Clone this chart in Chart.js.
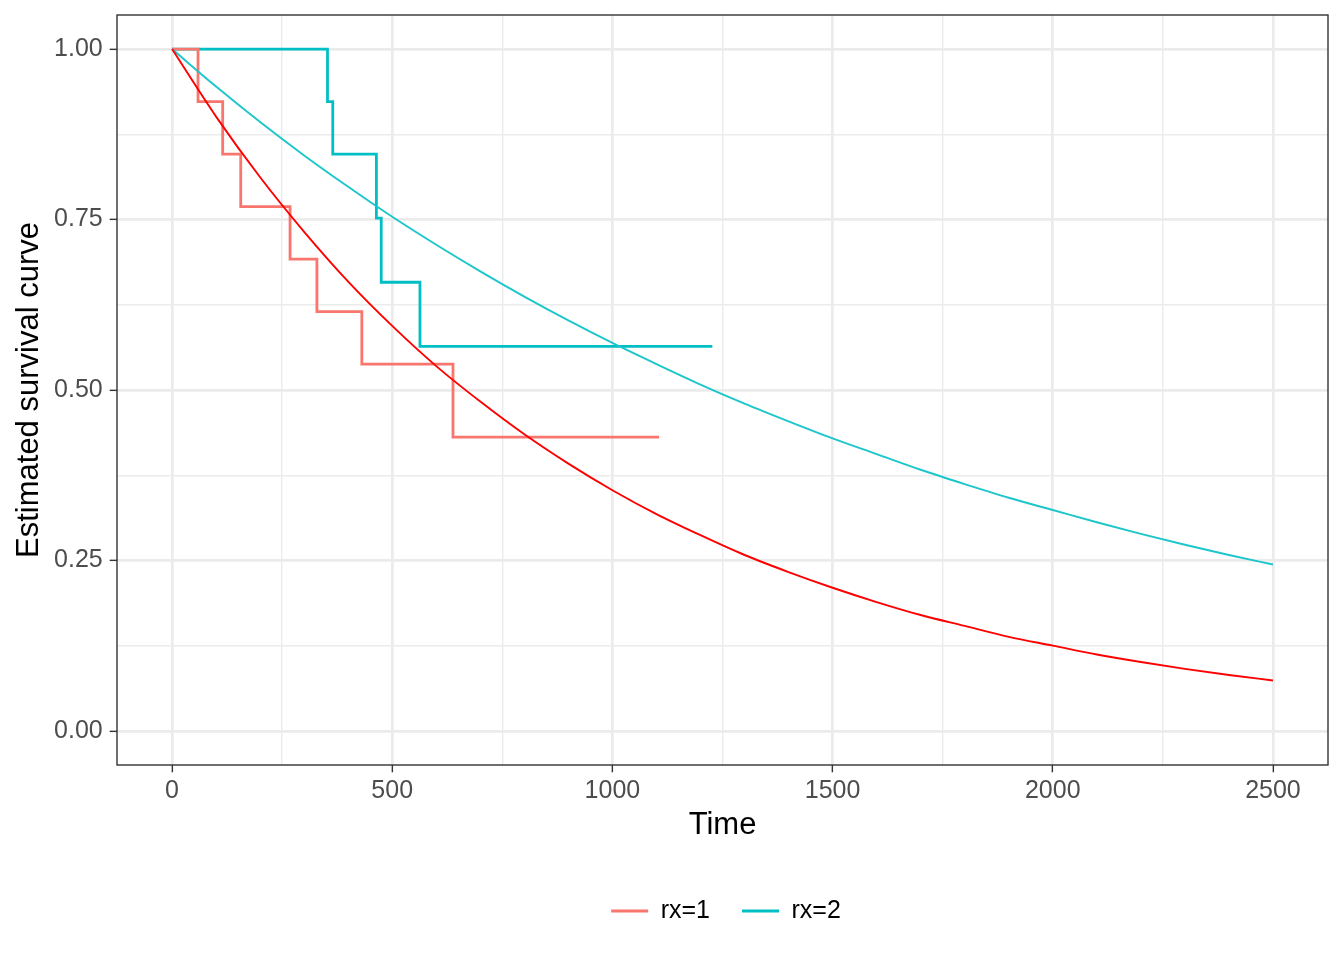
<!DOCTYPE html>
<html>
<head>
<meta charset="utf-8">
<script src="https://cdn.jsdelivr.net/npm/chart.js@4.4.1/dist/chart.umd.min.js"></script>
<style>
html, body { margin: 0; padding: 0; background: #ffffff; }
#wrap { width: 1344px; height: 960px; }
canvas { display: block; }
</style>
</head>
<body>
<div id="wrap"><canvas id="c" width="1344" height="960"></canvas></div>
<script>
// Kaplan-Meier step estimates
const rx1Times = [0, 59, 115, 156, 268, 329, 431, 638, 1106];
const rx1Surv  = [1.000, 0.923, 0.846, 0.769, 0.692, 0.615, 0.538, 0.431, 0.431];
const rx2Times = [0, 353, 365, 464, 475, 563, 1227];
const rx2Surv  = [1.000, 0.923, 0.846, 0.752, 0.658, 0.564, 0.564];

// Fitted parametric curves (every 100 time units)
const fitTimes = [0, 100, 200, 300, 400, 500, 600, 700, 800, 900, 1000, 1100, 1200,
                  1300, 1400, 1500, 1600, 1700, 1800, 1900, 2000, 2100, 2200, 2300, 2400, 2500];
const fit1 = [1.000, 0.901, 0.812, 0.732, 0.659, 0.594, 0.535, 0.483, 0.435, 0.392, 0.353, 0.318, 0.287,
              0.258, 0.233, 0.210, 0.189, 0.170, 0.154, 0.138, 0.125, 0.112, 0.101, 0.091, 0.082, 0.074];
const fit2 = [1.000, 0.945, 0.893, 0.844, 0.798, 0.754, 0.713, 0.674, 0.637, 0.602, 0.569, 0.538, 0.508,
              0.480, 0.454, 0.429, 0.406, 0.383, 0.362, 0.342, 0.324, 0.306, 0.289, 0.273, 0.258, 0.244];

const legendLabels = ['rx=1', 'rx=2'];
const xMajor = [0, 500, 1000, 1500, 2000, 2500];
const xMinor = [250, 750, 1250, 1750, 2250];
const yMajor = [0, 0.25, 0.5, 0.75, 1];
const yMinor = [0.125, 0.375, 0.625, 0.875];
const xLabel = 'Time';
const yLabel = 'Estimated survival curve';

const stepColors = ['#F8766D', '#00BFC4'];
const fitColors = ['#FF0000', '#1CC6CB'];
const FONT = "'Liberation Sans', Arial, Helvetica, sans-serif";

const pts = (xs, ys) => xs.map((x, i) => ({ x: x, y: ys[i] }));
const isMajor = (list, v) => list.some(m => Math.abs(m - v) < 1e-9);

const panelBorder = {
  id: 'panelBorder',
  afterDraw(chart) {
    const a = chart.chartArea, c = chart.ctx;
    c.save();
    c.strokeStyle = '#333333';
    c.lineWidth = 1.4;
    c.strokeRect(a.left, a.top, a.right - a.left, a.bottom - a.top);
    c.restore();
  }
};
const legendShift = {
  id: 'legendShift',
  afterLayout(chart) {
    if (chart.legend) { chart.legend.left = 124; chart.legend.right = 1328; }
  }
};

new Chart(document.getElementById('c'), {
  type: 'line',
  data: {
    datasets: [
      { label: legendLabels[0], data: pts(rx1Times, rx1Surv), borderColor: stepColors[0], backgroundColor: stepColors[0],
        borderWidth: 2.8, stepped: 'before', pointRadius: 0, fill: false, order: 2 },
      { label: legendLabels[1], data: pts(rx2Times, rx2Surv), borderColor: stepColors[1], backgroundColor: stepColors[1],
        borderWidth: 2.8, stepped: 'before', pointRadius: 0, fill: false, order: 2 },
      { label: 'fit1', data: pts(fitTimes, fit1), borderColor: fitColors[0], backgroundColor: fitColors[0],
        borderWidth: 1.9, cubicInterpolationMode: 'monotone', pointRadius: 0, fill: false, order: 1 },
      { label: 'fit2', data: pts(fitTimes, fit2), borderColor: fitColors[1], backgroundColor: fitColors[1],
        borderWidth: 1.9, cubicInterpolationMode: 'monotone', pointRadius: 0, fill: false, order: 1 }
    ]
  },
  options: {
    responsive: false,
    animation: false,
    devicePixelRatio: 1,
    parsing: false,
    layout: { padding: { top: 15, right: 16, left: 0, bottom: 26.5 } },
    plugins: {
      tooltip: { enabled: false },
      legend: {
        display: true,
        position: 'bottom',
        align: 'center',
        labels: {
          boxWidth: 37,
          boxHeight: 3,
          padding: 32,
          color: '#000000',
          font: { family: FONT, size: 25 },
          generateLabels: () => legendLabels.map((t, i) => ({
            text: t, fillStyle: stepColors[i], strokeStyle: stepColors[i], lineWidth: 0,
            hidden: false, datasetIndex: i, fontColor: '#000000'
          }))
        }
      }
    },
    scales: {
      x: {
        type: 'linear',
        min: -125,
        max: 2625,
        afterBuildTicks: (axis) => { axis.ticks = [...xMajor, ...xMinor].sort((a, b) => a - b).map(v => ({ value: v })); },
        afterFit: (s) => { s.height = 101.5; s.paddingLeft = 0; s.paddingRight = 0; },
        ticks: {
          autoSkip: false, maxRotation: 0, padding: 4,
          color: '#4D4D4D', font: { family: FONT, size: 25 },
          callback: (v) => isMajor(xMajor, v) ? String(v) : ''
        },
        grid: {
          color: '#EBEBEB',
          lineWidth: (ctx) => isMajor(xMajor, ctx.tick.value) ? 2.7 : 1.4,
          tickColor: (ctx) => isMajor(xMajor, ctx.tick.value) ? '#333333' : 'rgba(0,0,0,0)',
          tickLength: 7.3,
          tickWidth: 1.4,
          drawTicks: true
        },
        border: { display: false },
        title: { display: true, text: xLabel, color: '#000000', font: { family: FONT, size: 31 }, padding: { top: 0, bottom: 22 } }
      },
      y: {
        type: 'linear',
        min: -0.05,
        max: 1.05,
        afterBuildTicks: (axis) => { axis.ticks = [...yMajor, ...yMinor].sort((a, b) => a - b).map(v => ({ value: v })); },
        afterFit: (s) => { s.width = 117; s.paddingTop = 0; s.paddingBottom = 0; },
        ticks: {
          autoSkip: false, padding: 7,
          color: '#4D4D4D', font: { family: FONT, size: 25 },
          callback: (v) => isMajor(yMajor, v) ? v.toFixed(2) : ''
        },
        grid: {
          color: '#EBEBEB',
          lineWidth: (ctx) => isMajor(yMajor, ctx.tick.value) ? 2.7 : 1.4,
          tickColor: (ctx) => isMajor(yMajor, ctx.tick.value) ? '#333333' : 'rgba(0,0,0,0)',
          tickLength: 7.3,
          tickWidth: 1.4,
          drawTicks: true
        },
        border: { display: false },
        title: { display: true, text: yLabel, color: '#000000', font: { family: FONT, size: 31 }, padding: { top: 10.4, bottom: 0 } }
      }
    }
  },
  plugins: [panelBorder, legendShift]
});
</script>
</body>
</html>
